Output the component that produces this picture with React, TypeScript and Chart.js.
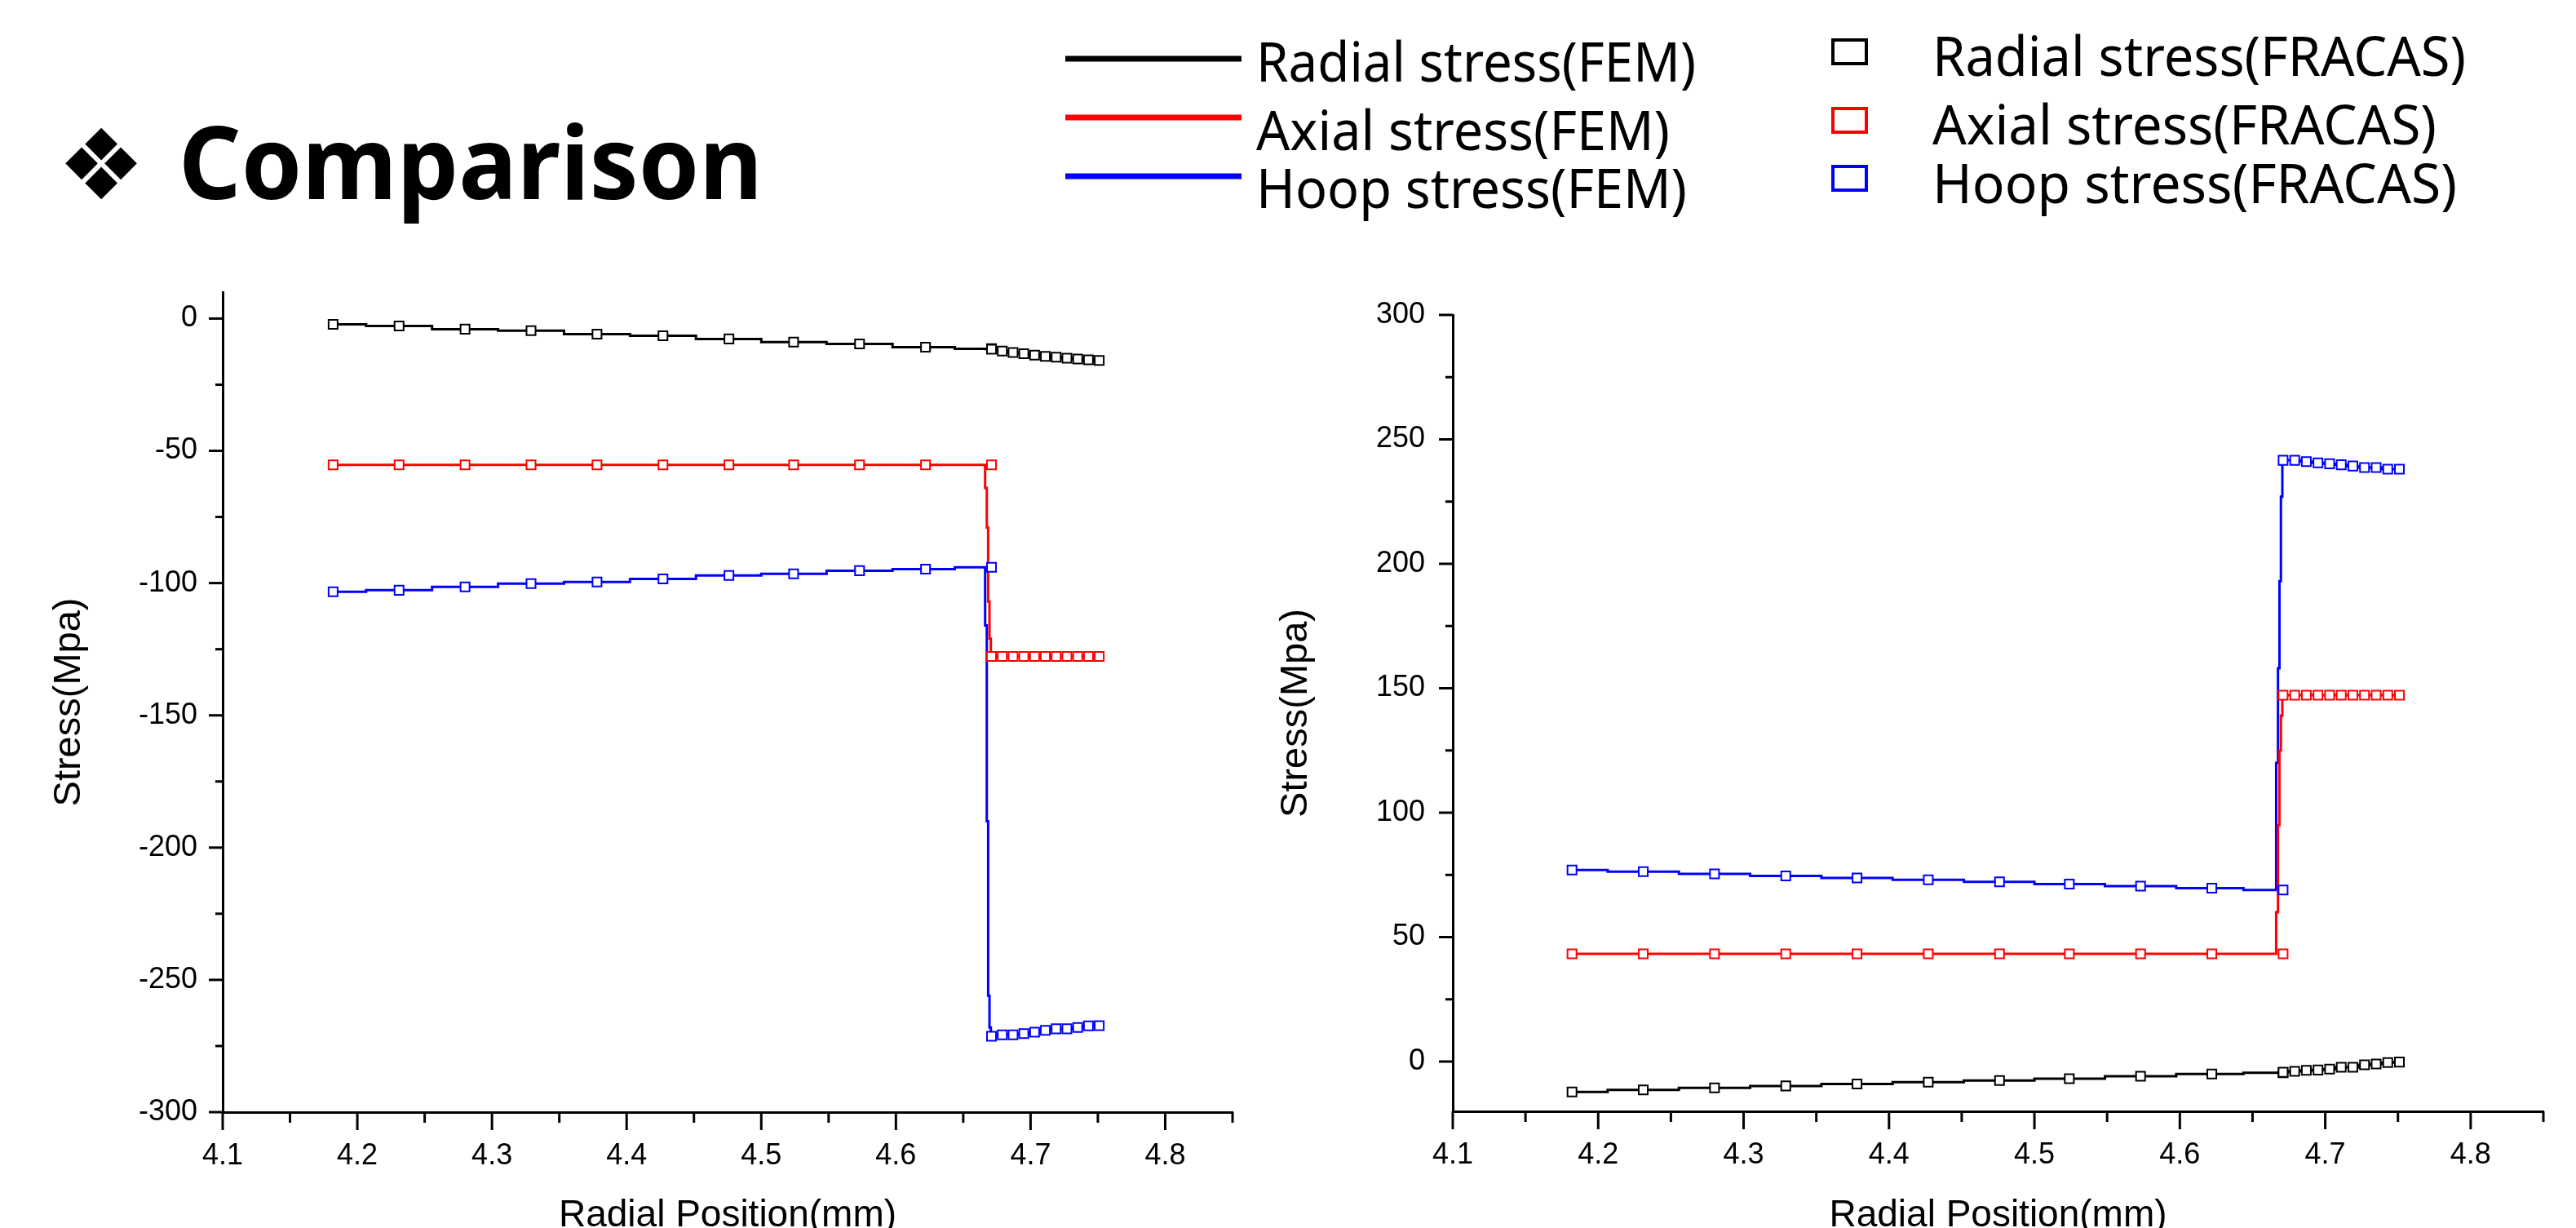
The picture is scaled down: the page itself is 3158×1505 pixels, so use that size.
import React, { useEffect, useRef } from 'react';
import { Chart, registerables } from 'chart.js';

Chart.register(...registerables);
Chart.defaults.font.family = "'Liberation Sans', Arial, sans-serif";
Chart.defaults.color = '#000';

// ---------- data ----------
const FUEL_X = [4.182, 4.231, 4.28, 4.329, 4.378, 4.427, 4.476, 4.524, 4.573, 4.622, 4.671];
const CLAD_X = [4.671, 4.679, 4.687, 4.695, 4.703, 4.711, 4.719, 4.727, 4.735, 4.743, 4.751];
const JUMP_X = [4.6655, 4.667, 4.668, 4.669, 4.67];

// left chart (compressive)
const L_RADIAL_FUEL = [-2.2, -2.8, -4.0, -4.6, -5.9, -6.5, -7.7, -8.9, -9.6, -10.8, -11.4];
const L_RADIAL_JUMP = [-11.5, -11.5, -11.6, -11.6];
const L_RADIAL_CLAD = [-11.6, -12.3, -12.8, -13.3, -13.8, -14.3, -14.6, -15.0, -15.3, -15.6, -15.8];
const L_AXIAL_FUEL = [-55.3, -55.3, -55.3, -55.3, -55.3, -55.3, -55.3, -55.3, -55.3, -55.3, -55.3];
const L_AXIAL_JUMP = [-64, -79, -107, -121];
const L_AXIAL_CLAD = [-127.7, -127.7, -127.7, -127.7, -127.7, -127.7, -127.7, -127.7, -127.7, -127.7, -127.7];
const L_HOOP_FUEL = [-103.3, -102.7, -101.4, -100.2, -99.6, -98.4, -97.1, -96.5, -95.3, -94.7, -94.0];
const L_HOOP_JUMP = [-116, -190, -256, -268];
const L_HOOP_CLAD = [-271.3, -270.8, -270.8, -270.3, -269.8, -269.1, -268.5, -268.5, -268.0, -267.4, -267.3];

// right chart (tensile)
const R_RADIAL_FUEL = [-12.2, -11.4, -10.6, -9.8, -9.0, -8.3, -7.6, -6.9, -5.9, -5.0, -4.5];
const R_RADIAL_JUMP = [-4.5, -4.4, -4.4, -4.3];
const R_RADIAL_CLAD = [-4.3, -3.9, -3.5, -3.4, -3.0, -2.3, -2.3, -1.3, -1.0, -0.4, -0.2];
const R_AXIAL_FUEL = [43.3, 43.3, 43.3, 43.3, 43.3, 43.3, 43.3, 43.3, 43.3, 43.3, 43.3];
const R_AXIAL_JUMP = [60, 95, 125, 139];
const R_AXIAL_CLAD = [147.2, 147.2, 147.2, 147.2, 147.2, 147.2, 147.2, 147.2, 147.2, 147.2, 147.2];
const R_HOOP_FUEL = [77.0, 76.3, 75.4, 74.6, 73.8, 73.0, 72.2, 71.3, 70.5, 69.7, 68.9];
const R_HOOP_JUMP = [120, 158, 193, 227];
const R_HOOP_CLAD = [241.6, 241.6, 241.1, 240.6, 240.2, 239.8, 239.3, 238.7, 238.7, 238.0, 238.0];

// ticks
const X_TICKS = [4.1, 4.2, 4.3, 4.4, 4.5, 4.6, 4.7, 4.8];
const X_MINOR = [4.15, 4.25, 4.35, 4.45, 4.55, 4.65, 4.75, 4.85];
const L_Y_TICKS = [-300, -250, -200, -150, -100, -50, 0];
const L_Y_MINOR = [-275, -225, -175, -125, -75, -25];
const R_Y_TICKS = [0, 50, 100, 150, 200, 250, 300];
const R_Y_MINOR = [25, 75, 125, 175, 225, 275];

const SERIES_NAMES = ['Radial stress', 'Axial stress', 'Hoop stress'];
const COLORS = ['#000000', '#ff0000', '#0000ff'];

// ---------- helpers ----------
function fracasPoints(fuel: number[], clad: number[]) {
  return [
    ...FUEL_X.map((x, i) => ({ x, y: fuel[i] })),
    ...CLAD_X.map((x, i) => ({ x, y: clad[i] })),
  ];
}
function femPoints(fuel: number[], jump: number[], clad: number[]) {
  const xs = [...FUEL_X.slice(0, 10), ...JUMP_X, ...CLAD_X];
  const ys = [...fuel.slice(0, 10), fuel[10], ...jump, ...clad];
  return xs.map((x, i) => ({ x, y: ys[i] }));
}

const axisTicksPlugin = {
  id: 'axisTicks',
  afterDraw(chart: any, _args: any, opts: any) {
    const { ctx, chartArea: a, scales } = chart;
    const xs = scales.x;
    const ys = scales.y;
    ctx.save();
    ctx.strokeStyle = '#000';
    ctx.lineWidth = 3;
    ctx.lineCap = 'butt';
    const seg = (x1: number, y1: number, x2: number, y2: number) => {
      ctx.beginPath();
      ctx.moveTo(x1, y1);
      ctx.lineTo(x2, y2);
      ctx.stroke();
    };
    opts.xMajor.forEach((v: number) => { const p = xs.getPixelForValue(v); seg(p, a.bottom, p, a.bottom + 22); });
    opts.xMinor.forEach((v: number) => { const p = xs.getPixelForValue(v); seg(p, a.bottom, p, a.bottom + 13); });
    opts.yMajor.forEach((v: number) => { const p = ys.getPixelForValue(v); seg(a.left, p, a.left - 17, p); });
    opts.yMinor.forEach((v: number) => { const p = ys.getPixelForValue(v); seg(a.left, p, a.left - 9, p); });
    ctx.restore();
  },
};

type Spec = {
  w: number; h: number;
  padTop: number; padRight: number;
  yWidth: number; xHeight: number;
  yMin: number; yMax: number;
  yTicks: number[]; yMinor: number[];
  yLabelPad: number; yTitlePad: number;
  fracas: { fuel: number[]; clad: number[] }[];
  fem: { fuel: number[]; jump: number[]; clad: number[] }[];
};

function StressChart({ spec }: { spec: Spec }) {
  const ref = useRef<HTMLCanvasElement>(null);
  useEffect(() => {
    const datasets: any[] = [];
    spec.fracas.forEach((s, i) => {
      datasets.push({
        label: SERIES_NAMES[i] + '(FRACAS)',
        data: fracasPoints(s.fuel, s.clad),
        showLine: false,
        pointStyle: 'rect',
        pointRadius: 7.8,
        pointBorderWidth: 2,
        pointBorderColor: COLORS[i],
        pointBackgroundColor: '#ffffff',
        borderColor: COLORS[i],
        backgroundColor: '#ffffff',
      });
    });
    spec.fem.forEach((s, i) => {
      datasets.push({
        label: SERIES_NAMES[i] + '(FEM)',
        data: femPoints(s.fuel, s.jump, s.clad),
        showLine: true,
        stepped: 'middle',
        pointRadius: 0,
        borderWidth: 3,
        borderColor: COLORS[i],
        backgroundColor: COLORS[i],
        fill: false,
      });
    });

    const chart = new Chart(ref.current as HTMLCanvasElement, {
      type: 'line',
      data: { datasets },
      plugins: [axisTicksPlugin as any],
      options: {
        animation: false,
        responsive: false,
        events: [],
        layout: { padding: { top: spec.padTop, right: spec.padRight, left: 0, bottom: 0 } },
        plugins: {
          legend: { display: false },
          tooltip: { enabled: false },
          axisTicks: { xMajor: X_TICKS, xMinor: X_MINOR, yMajor: spec.yTicks, yMinor: spec.yMinor },
        } as any,
        scales: {
          x: {
            type: 'linear',
            min: 4.1,
            max: 4.85,
            grid: { display: false, drawTicks: false },
            border: { display: true, color: '#000', width: 3 },
            ticks: {
              autoSkip: false,
              maxRotation: 0,
              padding: 32,
              color: '#000',
              font: { size: 36 },
              callback: (v: any) => Number(v).toFixed(1),
            },
            title: {
              display: true,
              text: 'Radial Position(mm)',
              color: '#000',
              font: { size: 46, lineHeight: '30px' },
              padding: { top: 0, bottom: 0 },
            },
            afterBuildTicks: (scale: any) => { scale.ticks = X_TICKS.map((v) => ({ value: v })); },
            afterFit: (scale: any) => { scale.height = spec.xHeight; },
          },
          y: {
            type: 'linear',
            min: spec.yMin,
            max: spec.yMax,
            grid: { display: false, drawTicks: false },
            border: { display: true, color: '#000', width: 3 },
            ticks: {
              autoSkip: false,
              padding: spec.yLabelPad,
              color: '#000',
              font: { size: 36 },
              callback: (v: any) => String(v),
            },
            title: {
              display: true,
              text: 'Stress(Mpa)',
              color: '#000',
              font: { size: 47, lineHeight: '47px' },
              padding: { top: spec.yTitlePad, bottom: 0 },
            },
            afterBuildTicks: (scale: any) => { scale.ticks = spec.yTicks.map((v) => ({ value: v })); },
            afterFit: (scale: any) => { scale.width = spec.yWidth; },
          },
        },
      } as any,
    });
    return () => chart.destroy();
  }, []);
  return (
    <canvas
      ref={ref}
      width={spec.w}
      height={spec.h}
      style={{ display: 'block', width: spec.w + 'px', height: spec.h + 'px' }}
    />
  );
}

const LEFT_SPEC: Spec = {
  w: 1560, h: 1205, padTop: 58, padRight: 49, yWidth: 273, xHeight: 142,
  yMin: -300, yMax: 10, yTicks: L_Y_TICKS, yMinor: L_Y_MINOR, yLabelPad: 31, yTitlePad: 61.5,
  fracas: [
    { fuel: L_RADIAL_FUEL, clad: L_RADIAL_CLAD },
    { fuel: L_AXIAL_FUEL, clad: L_AXIAL_CLAD },
    { fuel: L_HOOP_FUEL, clad: L_HOOP_CLAD },
  ],
  fem: [
    { fuel: L_RADIAL_FUEL, jump: L_RADIAL_JUMP, clad: L_RADIAL_CLAD },
    { fuel: L_AXIAL_FUEL, jump: L_AXIAL_JUMP, clad: L_AXIAL_CLAD },
    { fuel: L_HOOP_FUEL, jump: L_HOOP_JUMP, clad: L_HOOP_CLAD },
  ],
};

const RIGHT_SPEC: Spec = {
  w: 1598, h: 1205, padTop: 86, padRight: 40, yWidth: 221, xHeight: 143,
  yMin: -20, yMax: 300, yTicks: R_Y_TICKS, yMinor: R_Y_MINOR, yLabelPad: 34, yTitlePad: 5.5,
  fracas: [
    { fuel: R_RADIAL_FUEL, clad: R_RADIAL_CLAD },
    { fuel: R_AXIAL_FUEL, clad: R_AXIAL_CLAD },
    { fuel: R_HOOP_FUEL, clad: R_HOOP_CLAD },
  ],
  fem: [
    { fuel: R_RADIAL_FUEL, jump: R_RADIAL_JUMP, clad: R_RADIAL_CLAD },
    { fuel: R_AXIAL_FUEL, jump: R_AXIAL_JUMP, clad: R_AXIAL_CLAD },
    { fuel: R_HOOP_FUEL, jump: R_HOOP_JUMP, clad: R_HOOP_CLAD },
  ],
};

const FEM_BASELINES = [100, 184, 255];
const FEM_LINE_Y = [72, 144, 216];
const FEM_TEXT_LEN = [539, 507, 528];
const FRACAS_BASELINES = [93, 177, 249];
const FRACAS_BOX_Y = [49, 133, 204];
const FRACAS_TEXT_LEN = [654, 618, 643];

function Header() {
  const font = "'Noto Sans', 'Liberation Sans', sans-serif";
  return (
    <svg width={3158} height={300} style={{ position: 'absolute', left: 0, top: 0 }}>
      <text x={124} y={244} textAnchor="middle" fontFamily="'DejaVu Sans'" fontSize={120} fill="#000">❖</text>
      <text x={219} y={244} fontFamily={font} fontWeight={700} fontSize={123} textLength={716}
        lengthAdjust="spacingAndGlyphs" fill="#000">Comparison</text>
      {SERIES_NAMES.map((n, i) => (
        <g key={'fem' + i}>
          <line x1={1306} x2={1522} y1={FEM_LINE_Y[i]} y2={FEM_LINE_Y[i]} stroke={COLORS[i]} strokeWidth={7} />
          <text x={1540} y={FEM_BASELINES[i]} fontFamily={font} fontSize={67} textLength={FEM_TEXT_LEN[i]}
            lengthAdjust="spacingAndGlyphs" fill="#000">{n + '(FEM)'}</text>
        </g>
      ))}
      {SERIES_NAMES.map((n, i) => (
        <g key={'fr' + i}>
          <rect x={2247} y={FRACAS_BOX_Y[i]} width={41} height={29} fill="#fff" stroke={COLORS[i]} strokeWidth={4} />
          <text x={2369} y={FRACAS_BASELINES[i]} fontFamily={font} fontSize={67} textLength={FRACAS_TEXT_LEN[i]}
            lengthAdjust="spacingAndGlyphs" fill="#000">{n + '(FRACAS)'}</text>
        </g>
      ))}
    </svg>
  );
}

export default function App() {
  return (
    <div style={{ position: 'absolute', left: 0, top: 0, width: 3158, height: 1505, overflow: 'hidden', background: '#fff' }}>
      <Header />
      <div style={{ position: 'absolute', left: 0, top: 300 }}>
        <StressChart spec={LEFT_SPEC} />
      </div>
      <div style={{ position: 'absolute', left: 1560, top: 300 }}>
        <StressChart spec={RIGHT_SPEC} />
      </div>
    </div>
  );
}
